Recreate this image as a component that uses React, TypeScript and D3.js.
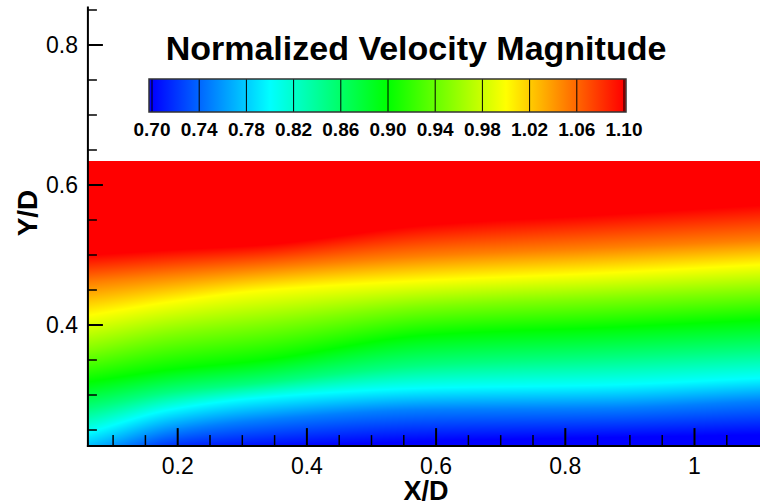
import React, { useMemo } from "react";
import * as d3 from "d3";

// ---------- data ----------
// axis ticks
const xMajorTicks = [0.2, 0.4, 0.6, 0.8, 1.0];
const xTickLabels = ["0.2", "0.4", "0.6", "0.8", "1"];
const yMajorTicks = [0.4, 0.6, 0.8];
const yTickLabels = ["0.4", "0.6", "0.8"];
const xMinorTicks = [0.1, 0.15, 0.25, 0.3, 0.35, 0.45, 0.5, 0.55, 0.65, 0.7, 0.75, 0.85, 0.9, 0.95, 1.05];
const yMinorTicks = [0.25, 0.3, 0.35, 0.45, 0.5, 0.55, 0.65, 0.7, 0.75, 0.85];

// colour legend
const legendLevels = [0.7, 0.74, 0.78, 0.82, 0.86, 0.9, 0.94, 0.98, 1.02, 1.06, 1.1];
const legendLabels = ["0.70", "0.74", "0.78", "0.82", "0.86", "0.90", "0.94", "0.98", "1.02", "1.06", "1.10"];
const colorStops = [0.7, 0.8, 0.9, 1.0, 1.1];
const colorStopColors = ["#0000ff", "#00ffff", "#00ff00", "#ffff00", "#ff0000"];

// field extent (X/D, Y/D)
const fieldX = [0.061, 1.11];
const fieldY = [0.227, 0.634];
const axisYTop = 0.855;

// velocity contour heights (Y/D) at stations along X/D
const stationX = [0.064, 0.188, 0.327, 0.591, 0.854, 1.101];
const contourLevels = [0.7, 0.75, 0.8, 0.85, 0.9, 0.95, 1.0, 1.05, 1.1];
const yAt070 = [0.164, 0.214, 0.223, 0.234, 0.239, 0.243];
const yAt075 = [0.21, 0.247, 0.264, 0.279, 0.281, 0.291];
const yAt080 = [0.247, 0.279, 0.296, 0.31, 0.314, 0.324];
const yAt085 = [0.281, 0.304, 0.317, 0.343, 0.353, 0.364];
const yAt090 = [0.319, 0.336, 0.349, 0.386, 0.396, 0.407];
const yAt095 = [0.364, 0.386, 0.4, 0.427, 0.437, 0.447];
const yAt100 = [0.414, 0.433, 0.449, 0.464, 0.474, 0.486];
const yAt105 = [0.461, 0.471, 0.481, 0.499, 0.51, 0.521];
const yAt110 = [0.5, 0.507, 0.514, 0.543, 0.557, 0.571];
const contourHeights = [yAt070, yAt075, yAt080, yAt085, yAt090, yAt095, yAt100, yAt105, yAt110];

// ---------- layout ----------
const W = 760;
const H = 504;
const FONT = "'Liberation Sans', Arial, Helvetica, sans-serif";

const xScale = d3.scaleLinear().domain([0, 1]).range([48.5, 694.5]);
const yScale = d3.scaleLinear().domain([0.4, 0.6]).range([325, 185]);
const colorScale = d3
  .scaleLinear<string>()
  .domain(colorStops)
  .range(colorStopColors)
  .interpolate(d3.interpolateRgb)
  .clamp(true);
const legendScale = d3.scaleLinear().domain([0.7, 1.1]).range([152, 624]);

// monotone cubic (Fritsch–Carlson) through the station heights, for smooth rendering
function monotone(xs: number[], ys: number[]) {
  const n = xs.length;
  const d: number[] = [];
  for (let i = 0; i < n - 1; i++) d.push((ys[i + 1] - ys[i]) / (xs[i + 1] - xs[i]));
  const m: number[] = new Array(n);
  m[0] = d[0];
  m[n - 1] = d[n - 2];
  for (let i = 1; i < n - 1; i++) {
    if (d[i - 1] * d[i] <= 0) m[i] = 0;
    else {
      const w1 = 2 * (xs[i + 1] - xs[i]) + (xs[i] - xs[i - 1]);
      const w2 = (xs[i + 1] - xs[i]) + 2 * (xs[i] - xs[i - 1]);
      m[i] = (w1 + w2) / (w1 / d[i - 1] + w2 / d[i]);
    }
  }
  return (x: number) => {
    if (x <= xs[0]) return ys[0] + m[0] * (x - xs[0]);
    if (x >= xs[n - 1]) return ys[n - 1] + m[n - 1] * (x - xs[n - 1]);
    let k = 0;
    while (k < n - 2 && x > xs[k + 1]) k++;
    const h = xs[k + 1] - xs[k];
    const t = (x - xs[k]) / h;
    const t2 = t * t;
    const t3 = t2 * t;
    return (
      (2 * t3 - 3 * t2 + 1) * ys[k] +
      (t3 - 2 * t2 + t) * h * m[k] +
      (-2 * t3 + 3 * t2) * ys[k + 1] +
      (t3 - t2) * h * m[k + 1]
    );
  };
}

function useFieldImage() {
  return useMemo(() => {
    const x0 = Math.round(xScale(fieldX[0]));
    const x1 = W;
    const y0 = Math.round(yScale(fieldY[1]));
    const y1 = Math.round(yScale(fieldY[0]));
    const w = x1 - x0;
    const h = y1 - y0;
    const canvas = document.createElement("canvas");
    canvas.width = w;
    canvas.height = h;
    const ctx = canvas.getContext("2d")!;
    const img = ctx.createImageData(w, h);
    const lineFns = contourHeights.map((hs) => monotone(stationX, hs));
    for (let i = 0; i < w; i++) {
      const X = xScale.invert(x0 + i + 0.5);
      const hts = lineFns.map((f) => f(X));
      for (let j = 0; j < h; j++) {
        const Y = yScale.invert(y0 + j + 0.5);
        let v: number;
        if (Y >= hts[hts.length - 1]) v = contourLevels[contourLevels.length - 1];
        else if (Y <= hts[0]) v = contourLevels[0];
        else {
          let k = 0;
          while (k < hts.length - 2 && Y > hts[k + 1]) k++;
          const t = (Y - hts[k]) / (hts[k + 1] - hts[k]);
          v = contourLevels[k] + t * (contourLevels[k + 1] - contourLevels[k]);
        }
        const c = d3.rgb(colorScale(v));
        const idx = (j * w + i) * 4;
        img.data[idx] = c.r;
        img.data[idx + 1] = c.g;
        img.data[idx + 2] = c.b;
        img.data[idx + 3] = 255;
      }
    }
    ctx.putImageData(img, 0, 0);
    return { url: canvas.toDataURL(), x0, y0, w, h };
  }, []);
}

export default function App() {
  const field = useFieldImage();
  const axisX = xScale(fieldX[0]);
  const axisY = yScale(fieldY[0]);
  const cbTop = 79;
  const cbBottom = 112;
  return (
    <svg
      width={W}
      height={H}
      style={{ position: "absolute", left: 0, top: 0, background: "#fff" }}
      fontFamily={FONT}
    >
      <defs>
        <linearGradient
          id="cbgrad"
          gradientUnits="userSpaceOnUse"
          x1={legendScale(0.7)}
          x2={legendScale(1.1)}
          y1={0}
          y2={0}
        >
          {colorStops.map((v, i) => (
            <stop key={i} offset={(v - 0.7) / 0.4} stopColor={colorStopColors[i]} />
          ))}
        </linearGradient>
      </defs>

      {/* flood field */}
      <image
        href={field.url}
        x={field.x0}
        y={field.y0}
        width={field.w}
        height={field.h}
        preserveAspectRatio="none"
      />

      {/* axes */}
      <line x1={axisX} x2={axisX} y1={yScale(axisYTop)} y2={axisY + 1} stroke="#000" strokeWidth={2} />
      <line x1={axisX - 1} x2={W} y1={axisY} y2={axisY} stroke="#000" strokeWidth={2} />

      {yMajorTicks.map((t) => (
        <line key={"ym" + t} x1={axisX} x2={axisX + 15} y1={yScale(t)} y2={yScale(t)} stroke="#000" strokeWidth={2} />
      ))}
      {yMinorTicks.map((t) => (
        <line key={"yn" + t} x1={axisX} x2={axisX + 9} y1={yScale(t)} y2={yScale(t)} stroke="#000" strokeWidth={1.5} />
      ))}
      {xMajorTicks.map((t) => (
        <line key={"xm" + t} x1={xScale(t)} x2={xScale(t)} y1={axisY} y2={axisY - 18} stroke="#000" strokeWidth={2} />
      ))}
      {xMinorTicks.map((t) => (
        <line key={"xn" + t} x1={xScale(t)} x2={xScale(t)} y1={axisY} y2={axisY - 11} stroke="#000" strokeWidth={1.5} />
      ))}

      {yMajorTicks.map((t, i) => (
        <text key={"yl" + t} x={78} y={yScale(t) + 8} fontSize={23} textAnchor="end" fill="#000">
          {yTickLabels[i]}
        </text>
      ))}
      {xMajorTicks.map((t, i) => (
        <text key={"xl" + t} x={xScale(t)} y={474} fontSize={23} textAnchor="middle" fill="#000">
          {xTickLabels[i]}
        </text>
      ))}

      <text x={426} y={500} fontSize={27} fontWeight="bold" textAnchor="middle" fill="#000">
        X/D
      </text>
      <text
        transform={`translate(37,213) rotate(-90)`}
        fontSize={28}
        fontWeight="bold"
        textAnchor="middle"
        fill="#000"
      >
        Y/D
      </text>

      {/* legend */}
      <text x={416} y={60} fontSize={34} fontWeight="bold" textAnchor="middle" fill="#000">
        Normalized Velocity Magnitude
      </text>
      <rect x={149} y={cbTop} width={477} height={cbBottom - cbTop} fill="url(#cbgrad)" />
      {legendLevels.map((v) => (
        <line
          key={"cl" + v}
          x1={legendScale(v)}
          x2={legendScale(v)}
          y1={cbTop}
          y2={cbBottom}
          stroke="#000"
          strokeWidth={1}
        />
      ))}
      <rect
        x={149}
        y={cbTop}
        width={477}
        height={cbBottom - cbTop}
        fill="none"
        stroke="#333"
        strokeWidth={1.5}
      />
      {legendLevels.map((v, i) => (
        <text
          key={"cbl" + v}
          x={legendScale(v)}
          y={136}
          fontSize={19}
          fontWeight="bold"
          textAnchor="middle"
          fill="#000"
        >
          {legendLabels[i]}
        </text>
      ))}
    </svg>
  );
}
